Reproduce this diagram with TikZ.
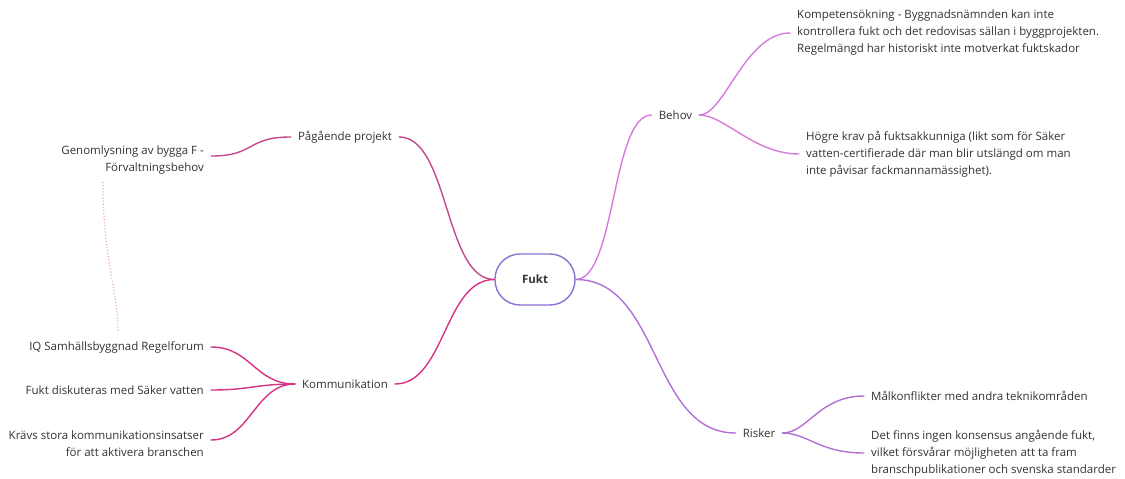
\documentclass[tikz,border=0pt]{standalone}
\usepackage{fontspec}
\setmainfont{Open Sans}
\usetikzlibrary{calc}
\definecolor{txt}{RGB}{50,50,50}
\definecolor{fuktc}{RGB}{140,112,210}
\definecolor{projc}{RGB}{196,72,140}
\definecolor{kommc}{RGB}{214,50,132}
\definecolor{behovc}{RGB}{214,122,220}
\definecolor{riskc}{RGB}{178,112,212}
\definecolor{relc}{RGB}{226,160,196}
\begin{document}
\begin{tikzpicture}[x=1pt,y=-1pt,
  every node/.style={font=\fontsize{11.5}{17}\selectfont, text=txt, inner xsep=7pt, inner ysep=2pt},
  branch/.style={line width=1.4pt, line cap=round},
  rel/.style={relc, line width=1.1pt, dotted}]
\useasboundingbox (0,0) rectangle (1125,479);

% central topic
\node[draw=fuktc, line width=1.4pt, rounded corners=25pt, minimum width=80pt,
      minimum height=51pt, font=\fontsize{11.5}{14}\selectfont\bfseries] (fukt) at (535,279.5) {Fukt};

% main topics
\node (proj)   at (345,137) {Pågående projekt};
\node (komm)   at (345,384) {Kommunikation};
\node (behov)  at (675.5,115) {Behov};
\node (risker) at (759,433) {Risker};

% subtopics, left side
\node[anchor=east, align=right] (genom) at (211,160) {Genomlysning av bygga F -\\Förvaltningsbehov};
\node[anchor=east] (iq) at (211,347) {IQ Samhällsbyggnad Regelforum};
\node[anchor=east] (fd) at (211,390) {Fukt diskuteras med Säker vatten};
\node[anchor=east, align=right] (krav) at (211,444) {Krävs stora kommunikationsinsatser\\för att aktivera branschen};

% subtopics, right side
\node[anchor=west, align=left] (komp) at (790,33) {Kompetensökning - Byggnadsnämnden kan inte\\kontrollera fukt och det redovisas sällan i byggprojekten.\\Regelmängd har historiskt inte motverkat fuktskador};
\node[anchor=west, align=left] (hogre) at (799,154) {Högre krav på fuktsakkunniga (likt som för Säker\\vatten-certifierade där man blir utslängd om man\\inte påvisar fackmannamässighet).};
\node[anchor=west] (mal) at (864,396) {Målkonflikter med andra teknikområden};
\node[anchor=west, align=left] (det) at (864,453) {Det finns ingen konsensus angående fukt,\\vilket försvårar möjligheten att ta fram\\branschpublikationer och svenska standarder};

% branches from the centre
\draw[branch, projc] (fukt.west) .. controls +(-50,0) and +(50,0) .. (proj.east);
\draw[branch, kommc] (fukt.west) .. controls +(-50,0) and +(50,0) .. (komm.east);
\draw[branch, behovc] (fukt.east) .. controls +(40,0) and +(-40,0) .. (behov.west);
\draw[branch, riskc] (fukt.east) .. controls +(85,0) and +(-85,0) .. (risker.west);

% sub-branches
\draw[branch, projc] (proj.west) .. controls +(-45,0) and +(45,0) .. ([yshift=4pt]genom.east);
\draw[branch, kommc] (komm.west) .. controls +(-40,0) and +(40,0) .. (iq.east);
\draw[branch, kommc] (komm.west) .. controls +(-40,0) and +(40,0) .. (fd.east);
\draw[branch, kommc] (komm.west) .. controls +(-40,0) and +(40,0) .. ([yshift=4pt]krav.east);
\draw[branch, behovc] (behov.east) .. controls +(25,0) and +(-45,0) .. (komp.west);
\draw[branch, behovc] (behov.east) .. controls +(25,0) and +(-45,0) .. (hogre.west);
\draw[branch, riskc] (risker.east) .. controls +(25,0) and +(-45,0) .. (mal.west);
\draw[branch, riskc] (risker.east) .. controls +(25,0) and +(-45,0) .. (det.west);

% relation between two subtopics
\coordinate (r1) at (103,182);
\coordinate (r2) at (118,332);
\draw[rel] (r1) .. controls (103,260) and (118,290) .. (r2);
\end{tikzpicture}
\end{document}
